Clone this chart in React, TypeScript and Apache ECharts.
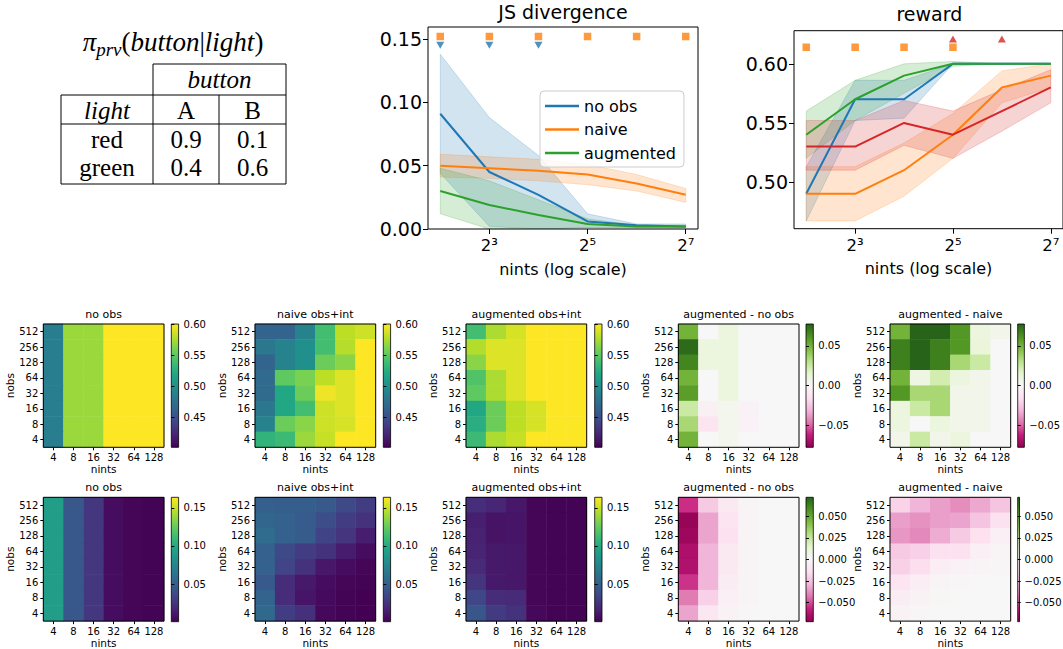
import { useEffect, useRef } from 'react';
import * as echarts from 'echarts';

const FONT = 'DejaVu Sans';
const SERIF = 'Liberation Serif';

// ---------- policy table ----------
const LIGHTS = ['red', 'green'];
const BUTTONS = ['A', 'B'];
const POLICY = [
  [0.9, 0.1],
  [0.4, 0.6],
];

// ---------- sweep axes ----------
const NINTS = [4, 8, 16, 32, 64, 128];
const NOBS = [4, 8, 16, 32, 64, 128, 256, 512];
const LOG_TICKS = [3, 5, 7];

// ---------- JS divergence curves (mean, band low, band high) ----------
const jsNoObs = [0.091, 0.045, 0.027, 0.006, 0.003, 0.002];
const jsNoObsLo = [0.044, 0.002, 0.0, 0.001, 0.001, 0.001];
const jsNoObsHi = [0.138, 0.088, 0.058, 0.012, 0.004, 0.004];
const jsNaive = [0.05, 0.048, 0.046, 0.043, 0.036, 0.027];
const jsNaiveLo = [0.041, 0.04, 0.038, 0.035, 0.03, 0.021];
const jsNaiveHi = [0.059, 0.057, 0.055, 0.051, 0.043, 0.032];
const jsAug = [0.03, 0.019, 0.011, 0.004, 0.002, 0.002];
const jsAugLo = [0.012, 0.0, 0.0, 0.001, 0.001, 0.001];
const jsAugHi = [0.048, 0.038, 0.023, 0.008, 0.003, 0.003];
const jsNaiveSigX = [4, 8, 16, 32, 64, 128];
const jsNaiveSigY = 0.152;
const jsNoObsSigX = [4, 8, 16];
const jsNoObsSigY = 0.145;

// ---------- reward curves ----------
const rwNoObs = [0.49, 0.57, 0.57, 0.6, 0.6, 0.6];
const rwNoObsLo = [0.467, 0.552, 0.554, 0.6, 0.6, 0.6];
const rwNoObsHi = [0.513, 0.586, 0.586, 0.6, 0.6, 0.6];
const rwNaive = [0.49, 0.49, 0.51, 0.54, 0.58, 0.59];
const rwNaiveLo = [0.467, 0.467, 0.488, 0.52, 0.567, 0.58];
const rwNaiveHi = [0.513, 0.513, 0.533, 0.558, 0.594, 0.6];
const rwAug = [0.54, 0.57, 0.59, 0.6, 0.6, 0.6];
const rwAugLo = [0.52, 0.552, 0.575, 0.598, 0.6, 0.6];
const rwAugHi = [0.56, 0.586, 0.6, 0.602, 0.6, 0.6];
const rwOther = [0.53, 0.53, 0.55, 0.54, 0.56, 0.58];
const rwOtherLo = [0.51, 0.51, 0.531, 0.52, 0.543, 0.567];
const rwOtherHi = [0.552, 0.552, 0.569, 0.56, 0.578, 0.595];
const rwNaiveSigX = [4, 8, 16, 32];
const rwNaiveSigY = 0.614;
const rwOtherSigX = [32, 64];
const rwOtherSigY = 0.621;

// ---------- heatmaps: rows listed from nobs=512 (top) down to nobs=4 ----------
const hmRewardNoObs = [
  [0.485, 0.57, 0.57, 0.6, 0.6, 0.6],
  [0.485, 0.57, 0.57, 0.6, 0.6, 0.6],
  [0.485, 0.57, 0.57, 0.6, 0.6, 0.6],
  [0.485, 0.57, 0.57, 0.6, 0.6, 0.6],
  [0.485, 0.57, 0.57, 0.6, 0.6, 0.6],
  [0.485, 0.57, 0.57, 0.6, 0.6, 0.6],
  [0.485, 0.57, 0.57, 0.6, 0.6, 0.6],
  [0.485, 0.57, 0.57, 0.6, 0.6, 0.6],
];
const hmRewardNaive = [
  [0.465, 0.465, 0.49, 0.54, 0.58, 0.585],
  [0.48, 0.49, 0.5, 0.54, 0.578, 0.6],
  [0.465, 0.49, 0.5, 0.555, 0.565, 0.6],
  [0.47, 0.55, 0.56, 0.58, 0.59, 0.6],
  [0.47, 0.52, 0.555, 0.595, 0.59, 0.6],
  [0.48, 0.52, 0.54, 0.585, 0.59, 0.6],
  [0.49, 0.555, 0.565, 0.585, 0.588, 0.6],
  [0.53, 0.535, 0.57, 0.583, 0.6, 0.6],
];
const hmRewardAug = [
  [0.54, 0.575, 0.588, 0.6, 0.6, 0.6],
  [0.577, 0.59, 0.59, 0.6, 0.6, 0.6],
  [0.565, 0.59, 0.59, 0.6, 0.6, 0.6],
  [0.545, 0.575, 0.59, 0.6, 0.6, 0.6],
  [0.55, 0.575, 0.59, 0.6, 0.6, 0.6],
  [0.52, 0.555, 0.58, 0.588, 0.6, 0.6],
  [0.525, 0.555, 0.58, 0.588, 0.6, 0.6],
  [0.535, 0.575, 0.583, 0.6, 0.6, 0.6],
];
const hmRewardAugMinusNoObs = [
  [0.05, 0.0, 0.01, 0.0, 0.0, 0.0],
  [0.075, 0.01, 0.01, 0.0, 0.0, 0.0],
  [0.066, 0.01, 0.01, 0.0, 0.0, 0.0],
  [0.05, 0.0, 0.01, 0.0, 0.0, 0.0],
  [0.058, 0.0, 0.01, 0.0, 0.0, 0.0],
  [0.025, -0.005, 0.004, -0.004, 0.0, 0.0],
  [0.035, -0.012, 0.004, -0.004, 0.0, 0.0],
  [0.05, 0.0, 0.004, 0.0, 0.0, 0.0],
];
const hmRewardAugMinusNaive = [
  [0.05, 0.078, 0.078, 0.06, 0.01, 0.005],
  [0.068, 0.078, 0.068, 0.06, 0.012, 0.0],
  [0.068, 0.078, 0.068, 0.035, 0.025, 0.0],
  [0.05, 0.008, 0.022, 0.01, 0.005, 0.0],
  [0.06, 0.035, 0.035, 0.005, 0.005, 0.0],
  [0.01, 0.025, 0.035, 0.005, 0.005, 0.0],
  [0.01, 0.0, 0.01, 0.005, 0.005, 0.0],
  [0.005, 0.025, 0.005, 0.01, 0.0, 0.0],
];
const hmJsNoObs = [
  [0.091, 0.045, 0.027, 0.006, 0.003, 0.002],
  [0.091, 0.045, 0.027, 0.006, 0.003, 0.002],
  [0.091, 0.045, 0.027, 0.006, 0.003, 0.002],
  [0.091, 0.045, 0.027, 0.006, 0.003, 0.002],
  [0.091, 0.045, 0.027, 0.006, 0.003, 0.002],
  [0.091, 0.045, 0.027, 0.006, 0.003, 0.002],
  [0.091, 0.045, 0.027, 0.006, 0.003, 0.002],
  [0.091, 0.045, 0.027, 0.006, 0.003, 0.002],
];
const hmJsNaive = [
  [0.05, 0.049, 0.049, 0.046, 0.037, 0.03],
  [0.054, 0.051, 0.047, 0.039, 0.03, 0.024],
  [0.058, 0.051, 0.048, 0.033, 0.025, 0.014],
  [0.051, 0.037, 0.03, 0.024, 0.013, 0.006],
  [0.051, 0.034, 0.024, 0.011, 0.006, 0.003],
  [0.046, 0.021, 0.012, 0.006, 0.003, 0.002],
  [0.053, 0.021, 0.01, 0.005, 0.002, 0.001],
  [0.056, 0.03, 0.023, 0.004, 0.002, 0.001],
];
const hmJsAug = [
  [0.022, 0.018, 0.011, 0.003, 0.002, 0.002],
  [0.015, 0.009, 0.01, 0.003, 0.002, 0.002],
  [0.016, 0.009, 0.01, 0.003, 0.002, 0.002],
  [0.017, 0.012, 0.011, 0.003, 0.002, 0.002],
  [0.02, 0.012, 0.011, 0.003, 0.002, 0.002],
  [0.025, 0.012, 0.011, 0.003, 0.002, 0.002],
  [0.035, 0.021, 0.02, 0.003, 0.002, 0.002],
  [0.044, 0.029, 0.024, 0.004, 0.002, 0.002],
];
const hmJsAugMinusNoObs = [
  [-0.055, -0.022, -0.009, -0.002, 0.0, 0.0],
  [-0.07, -0.033, -0.012, -0.002, 0.0, 0.0],
  [-0.068, -0.033, -0.013, -0.002, 0.0, 0.0],
  [-0.064, -0.029, -0.009, -0.002, 0.0, 0.0],
  [-0.063, -0.029, -0.009, -0.002, 0.0, 0.0],
  [-0.054, -0.029, -0.007, -0.002, 0.0, 0.0],
  [-0.042, -0.02, -0.005, -0.002, 0.0, 0.0],
  [-0.033, -0.01, -0.003, -0.001, 0.0, 0.0],
];
const hmJsAugMinusNaive = [
  [-0.019, -0.029, -0.034, -0.038, -0.032, -0.024],
  [-0.034, -0.037, -0.034, -0.033, -0.024, -0.013],
  [-0.036, -0.039, -0.031, -0.022, -0.014, -0.005],
  [-0.022, -0.02, -0.013, -0.013, -0.005, -0.002],
  [-0.02, -0.015, -0.006, -0.004, -0.002, -0.001],
  [-0.011, -0.006, -0.002, -0.001, 0.0, 0.0],
  [-0.007, -0.003, 0.001, 0.0, 0.0, 0.0],
  [-0.003, -0.001, 0.0, 0.0, 0.0, 0.0],
];

// ---------- colour maps ----------
const VIRIDIS = ['#440154', '#482475', '#414487', '#355f8d', '#2a788e', '#21918c', '#22a884', '#44bf70', '#7ad151', '#bddf26', '#fde725'];
const PIYG = ['#8e0152', '#c51b7d', '#de77ae', '#f1b6da', '#fde0ef', '#f7f7f7', '#e6f5d0', '#b8e186', '#7fbc41', '#4d9221', '#276419'];

const BLUE = '#1f77b4';
const ORANGE = '#ff7f0e';
const GREEN = '#2ca02c';
const RED = '#d62728';

const SUP: Record<number, string> = { 3: '\u00b3', 5: '\u2075', 7: '\u2077' };
const LX = NINTS.map((n) => Math.log2(n));

function rgba(hex: string, a: number) {
  const v = parseInt(hex.slice(1), 16);
  return `rgba(${(v >> 16) & 255},${(v >> 8) & 255},${v & 255},${a})`;
}

function fmtTick(digits: number) {
  return (v: number) => (v < -1e-9 ? '\u2212' : '') + Math.abs(v).toFixed(digits);
}

function buildOption() {
  const grid: any[] = [];
  const xAxis: any[] = [];
  const yAxis: any[] = [];
  const series: any[] = [];
  const visualMap: any[] = [];
  const title: any[] = [];

  const black = { color: '#000', width: 1 };

  // ---- line panels ----
  function linePanel(cfg: any) {
    const gi = grid.length;
    grid.push({ left: cfg.left, top: cfg.top, width: cfg.width, height: cfg.height, show: true, borderColor: '#000', borderWidth: 1, backgroundColor: 'transparent', z: 3 });
    xAxis.push({
      gridIndex: gi, type: 'value', min: 1.75, max: 7.25,
      axisLine: { show: false }, splitLine: { show: false },
      axisTick: { show: true, length: 5, customValues: LOG_TICKS, lineStyle: black },
      axisLabel: { customValues: LOG_TICKS, formatter: (v: number) => '2' + SUP[Math.round(v)], fontSize: 16.5, color: '#000', margin: 8, fontFamily: FONT },
      name: 'nints (log scale)', nameLocation: 'middle', nameGap: 32,
      nameTextStyle: { fontSize: 16, color: '#000', fontFamily: FONT },
    });
    yAxis.push({
      gridIndex: gi, type: 'value', min: cfg.ymin, max: cfg.ymax,
      axisLine: { show: false }, splitLine: { show: false },
      axisTick: { show: true, length: 5, customValues: cfg.yticks, lineStyle: black },
      axisLabel: { customValues: cfg.yticks, formatter: (v: number) => v.toFixed(2), fontSize: 19, color: '#000', margin: 6, fontFamily: FONT },
    });
    title.push({ text: cfg.title, left: cfg.left + cfg.width / 2, top: cfg.titleTop, textAlign: 'center', padding: 0, textStyle: { fontSize: 19, fontWeight: 'normal', color: '#000', fontFamily: FONT } });

    cfg.bands.forEach((b: any) => {
      series.push({
        type: 'custom', xAxisIndex: gi, yAxisIndex: gi, silent: true, clip: true,
        data: [[LX[0], b.lo[0]]],
        renderItem: (_p: any, api: any) => {
          const pts: number[][] = [];
          for (let i = 0; i < LX.length; i++) pts.push(api.coord([LX[i], b.hi[i]]));
          for (let i = LX.length - 1; i >= 0; i--) pts.push(api.coord([LX[i], b.lo[i]]));
          return { type: 'polygon', shape: { points: pts }, style: { fill: rgba(b.color, 0.2), stroke: rgba(b.color, 0.2), lineWidth: 1 } };
        },
      });
    });
    cfg.lines.forEach((l: any) => {
      series.push({
        type: 'line', name: l.name, xAxisIndex: gi, yAxisIndex: gi, silent: true,
        data: LX.map((x, i) => [x, l.values[i]]), symbol: 'none',
        lineStyle: { width: 2, color: l.color }, itemStyle: { color: l.color },
      });
    });
    cfg.marks.forEach((m: any) => {
      series.push({
        type: 'scatter', name: m.name, xAxisIndex: gi, yAxisIndex: gi, silent: true,
        data: m.xs.map((n: number) => [Math.log2(n), m.y]),
        symbol: m.symbol, symbolRotate: m.rotate || 0, symbolSize: m.size,
        itemStyle: { color: m.color },
      });
    });
  }

  linePanel({
    title: 'JS divergence', titleTop: 2, left: 428, top: 27, width: 270, height: 202,
    ymin: 0, ymax: 0.1595, yticks: [0, 0.05, 0.1, 0.15],
    bands: [
      { lo: jsNoObsLo, hi: jsNoObsHi, color: BLUE },
      { lo: jsNaiveLo, hi: jsNaiveHi, color: ORANGE },
      { lo: jsAugLo, hi: jsAugHi, color: GREEN },
    ],
    lines: [
      { name: 'no obs', values: jsNoObs, color: BLUE },
      { name: 'naive', values: jsNaive, color: ORANGE },
      { name: 'augmented', values: jsAug, color: GREEN },
    ],
    marks: [
      { name: 'naive sig', xs: jsNaiveSigX, y: jsNaiveSigY, symbol: 'rect', size: 7.5, color: ORANGE },
      { name: 'no obs sig', xs: jsNoObsSigX, y: jsNoObsSigY, symbol: 'triangle', rotate: 180, size: [8, 7], color: BLUE },
    ],
  });

  linePanel({
    title: 'reward', titleTop: 4, left: 794, top: 30.7, width: 270.6, height: 198,
    ymin: 0.4605, ymax: 0.628, yticks: [0.5, 0.55, 0.6],
    bands: [
      { lo: rwNoObsLo, hi: rwNoObsHi, color: BLUE },
      { lo: rwNaiveLo, hi: rwNaiveHi, color: ORANGE },
      { lo: rwAugLo, hi: rwAugHi, color: GREEN },
      { lo: rwOtherLo, hi: rwOtherHi, color: RED },
    ],
    lines: [
      { name: 'no obs', values: rwNoObs, color: BLUE },
      { name: 'naive', values: rwNaive, color: ORANGE },
      { name: 'augmented', values: rwAug, color: GREEN },
      { name: 'other', values: rwOther, color: RED },
    ],
    marks: [
      { name: 'naive sig', xs: rwNaiveSigX, y: rwNaiveSigY, symbol: 'rect', size: 7.5, color: ORANGE },
      { name: 'other sig', xs: rwOtherSigX, y: rwOtherSigY, symbol: 'triangle', size: [8, 7], color: RED },
    ],
  });

  // ---- heatmap panels ----
  const HM_W = 120.7;
  const CB_W = 7.3;
  const LEFTS = [43.3, 255, 466, 678.3, 890];
  const CB_LEFTS = [171.3, 383.3, 594.7, 806, 1017.7];

  function heatPanel(p: any) {
    const gi = grid.length;
    grid.push({ left: p.left, top: p.top, width: HM_W, height: p.height, show: true, borderColor: '#000', borderWidth: 1, backgroundColor: 'transparent', z: 3 });
    xAxis.push({
      gridIndex: gi, type: 'category', data: NINTS.map(String),
      axisLine: { show: false }, splitLine: { show: false },
      axisTick: { show: true, alignWithLabel: true, length: 3, lineStyle: black },
      axisLabel: { interval: 0, fontSize: 10, color: '#000', margin: 5, fontFamily: FONT },
      name: 'nints', nameLocation: 'middle', nameGap: 15,
      nameTextStyle: { fontSize: 10.5, color: '#000', fontFamily: FONT },
    });
    yAxis.push({
      gridIndex: gi, type: 'category', data: NOBS.map(String),
      axisLine: { show: false }, splitLine: { show: false },
      axisTick: { show: true, alignWithLabel: true, length: 3, lineStyle: black },
      axisLabel: { interval: 0, fontSize: 10, color: '#000', margin: 5, fontFamily: FONT },
      name: 'nobs', nameLocation: 'middle', nameGap: 25,
      nameTextStyle: { fontSize: 10.5, color: '#000', fontFamily: FONT },
    });
    const cells: number[][] = [];
    p.values.forEach((row: number[], r: number) => {
      row.forEach((v, c) => cells.push([c, NOBS.length - 1 - r, v]));
    });
    const si = series.length;
    series.push({ type: 'heatmap', xAxisIndex: gi, yAxisIndex: gi, data: cells, silent: true, emphasis: { disabled: true } });
    visualMap.push({ type: 'continuous', show: false, seriesIndex: si, dimension: 2, min: p.min, max: p.max, inRange: { color: p.cmap } });
    title.push({ text: p.title, left: p.left + HM_W / 2, top: p.top - 15, textAlign: 'center', padding: 0, textStyle: { fontSize: 11, fontWeight: 'normal', color: '#000', fontFamily: FONT } });

    // colour bar
    const ci = grid.length;
    const stops = p.cmap.slice().reverse().map((c: string, i: number, a: string[]) => ({ offset: i / (a.length - 1), color: c }));
    grid.push({ left: p.cbLeft, top: p.top, width: CB_W, height: p.height, show: true, borderColor: '#000', borderWidth: 0.8, backgroundColor: new echarts.graphic.LinearGradient(0, 0, 0, 1, stops) });
    xAxis.push({ gridIndex: ci, type: 'value', show: false });
    yAxis.push({
      gridIndex: ci, type: 'value', position: 'right', min: p.min, max: p.max,
      axisLine: { show: false }, splitLine: { show: false },
      axisTick: { show: true, length: 3, customValues: p.ticks, lineStyle: black },
      axisLabel: { customValues: p.ticks, formatter: fmtTick(p.digits), fontSize: 10, color: '#000', margin: 5, fontFamily: FONT },
    });
  }

  const topRow = [
    { title: 'no obs', values: hmRewardNoObs, cmap: VIRIDIS, min: 0.4015, max: 0.6, ticks: [0.45, 0.5, 0.55, 0.6], digits: 2 },
    { title: 'naive obs+int', values: hmRewardNaive, cmap: VIRIDIS, min: 0.4015, max: 0.6, ticks: [0.45, 0.5, 0.55, 0.6], digits: 2 },
    { title: 'augmented obs+int', values: hmRewardAug, cmap: VIRIDIS, min: 0.4015, max: 0.6, ticks: [0.45, 0.5, 0.55, 0.6], digits: 2 },
    { title: 'augmented - no obs', values: hmRewardAugMinusNoObs, cmap: PIYG, min: -0.0775, max: 0.0775, ticks: [-0.05, 0, 0.05], digits: 2 },
    { title: 'augmented - naive', values: hmRewardAugMinusNaive, cmap: PIYG, min: -0.0775, max: 0.0775, ticks: [-0.05, 0, 0.05], digits: 2 },
  ];
  const bottomRow = [
    { title: 'no obs', values: hmJsNoObs, cmap: VIRIDIS, min: 0.0008, max: 0.1638, ticks: [0.05, 0.1, 0.15], digits: 2 },
    { title: 'naive obs+int', values: hmJsNaive, cmap: VIRIDIS, min: 0.0008, max: 0.1638, ticks: [0.05, 0.1, 0.15], digits: 2 },
    { title: 'augmented obs+int', values: hmJsAug, cmap: VIRIDIS, min: 0.0008, max: 0.1638, ticks: [0.05, 0.1, 0.15], digits: 2 },
    { title: 'augmented - no obs', values: hmJsAugMinusNoObs, cmap: PIYG, min: -0.072, max: 0.072, ticks: [-0.05, -0.025, 0, 0.025, 0.05], digits: 3 },
    { title: 'augmented - naive', values: hmJsAugMinusNaive, cmap: PIYG, min: -0.072, max: 0.072, ticks: [-0.05, -0.025, 0, 0.025, 0.05], digits: 3 },
  ];
  topRow.forEach((p, i) => heatPanel({ ...p, left: LEFTS[i], cbLeft: CB_LEFTS[i], top: 324, height: 123.3 }));
  bottomRow.forEach((p, i) => heatPanel({ ...p, left: LEFTS[i], cbLeft: CB_LEFTS[i], top: 497.3, height: 124.4 }));

  // ---- policy table drawn with graphic elements ----
  const TX = [61, 153, 219, 286];
  const TY = [64, 95, 124, 184];
  const line = (x1: number, y1: number, x2: number, y2: number) => ({ type: 'line', shape: { x1, y1, x2, y2 }, style: { stroke: '#000', lineWidth: 1 }, silent: true });
  const txt = (text: string, x: number, y: number, italic = false, size = 25) => ({
    type: 'text', x, y, silent: true,
    style: { text, fill: '#000', fontFamily: SERIF, fontSize: size, fontStyle: italic ? 'italic' : 'normal', align: 'center', verticalAlign: 'middle' },
  });
  const colX = [(TX[1] + TX[2]) / 2, (TX[2] + TX[3]) / 2];
  const rowY = [139, 167];
  const graphic: any[] = [
    {
      type: 'text', x: 173, y: 42, silent: true,
      style: {
        text: '{p|\u03c0}{s|prv}{a|(}{i|button}{a||}{i|light}{a|)}',
        align: 'center', verticalAlign: 'middle', fill: '#000',
        rich: {
          p: { fontFamily: SERIF, fontSize: 27, fontStyle: 'italic', lineHeight: 34 },
          a: { fontFamily: SERIF, fontSize: 27, lineHeight: 34 },
          i: { fontFamily: SERIF, fontSize: 27, fontStyle: 'italic', lineHeight: 34 },
          s: { fontFamily: SERIF, fontSize: 19, fontStyle: 'italic', lineHeight: 16, verticalAlign: 'bottom' },
        },
      },
    },
    line(TX[1], TY[0], TX[3], TY[0]),
    line(TX[0], TY[1], TX[3], TY[1]),
    line(TX[0], TY[2], TX[3], TY[2]),
    line(TX[0], TY[3], TX[3], TY[3]),
    line(TX[0], TY[1], TX[0], TY[3]),
    line(TX[1], TY[0], TX[1], TY[3]),
    line(TX[2], TY[1], TX[2], TY[3]),
    line(TX[3], TY[0], TX[3], TY[3]),
    txt('button', (TX[1] + TX[3]) / 2, 79, true),
    txt('light', (TX[0] + TX[1]) / 2, 110, true),
    ...BUTTONS.map((b, j) => txt(b, colX[j], 110)),
    ...LIGHTS.map((l, i) => txt(l, (TX[0] + TX[1]) / 2, rowY[i])),
    ...POLICY.flatMap((row, i) => row.map((v, j) => txt(v.toFixed(1), colX[j], rowY[i]))),
  ];

  return {
    animation: false,
    backgroundColor: '#fff',
    textStyle: { fontFamily: FONT },
    title,
    grid,
    xAxis,
    yAxis,
    visualMap,
    series,
    graphic,
    legend: {
      data: ['no obs', 'naive', 'augmented'],
      orient: 'vertical', left: 540, top: 91,
      icon: 'rect', itemWidth: 34, itemHeight: 2.6, itemGap: 5.5,
      selectedMode: false,
      textStyle: { fontSize: 16, color: '#000', fontFamily: FONT, lineHeight: 18 },
      backgroundColor: 'rgba(255,255,255,0.8)', borderColor: '#cccccc', borderWidth: 1, borderRadius: 4,
      padding: [6, 8, 5, 5],
    },
  };
}

export default function App() {
  const ref = useRef<HTMLDivElement>(null);
  useEffect(() => {
    if (!ref.current) return;
    const chart = echarts.init(ref.current, undefined, { renderer: 'svg' });
    chart.setOption(buildOption() as any);
    return () => chart.dispose();
  }, []);
  return <div ref={ref} style={{ position: 'fixed', left: 0, top: 0, width: 1063, height: 649, background: '#fff' }} />;
}
